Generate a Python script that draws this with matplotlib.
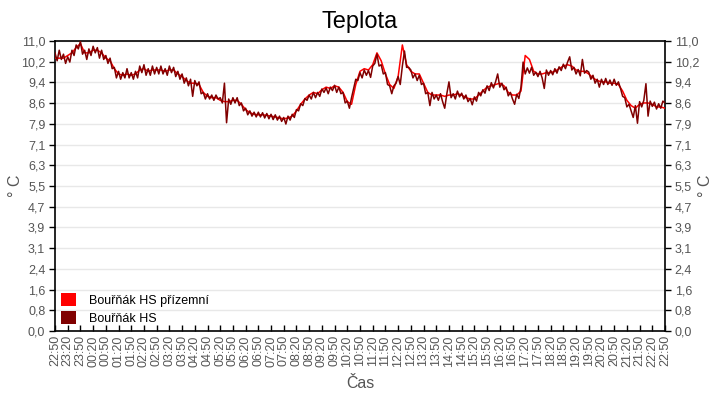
import numpy as np
import pandas as pd
import matplotlib
matplotlib.use("Agg")
import matplotlib.pyplot as plt
from matplotlib.patches import Patch

plt.rcParams['font.family'] = ['Liberation Sans', 'DejaVu Sans']

title = "Teplota"
series_names = ["Bouřňák HS přízemní", "Bouřňák HS"]
series_colors = ["#ff0000", "#800000"]
x_label = "Čas"
y_label = "° C"
start_time = "2024-01-01 22:50"

# Bouřňák HS (dark red), sampled every 5 minutes, one row per hour
hs_values = [
    10.55, 10.25, 10.65, 10.30, 10.50, 10.15, 10.40, 10.20, 10.65, 10.45, 10.85, 10.70,
    10.98, 10.50, 10.65, 10.30, 10.70, 10.45, 10.80, 10.55, 10.75, 10.35, 10.65, 10.30,
    10.45, 10.15, 10.35, 9.95, 10.00, 9.60, 9.85, 9.55, 9.80, 9.60, 9.95, 9.60,
    9.80, 9.55, 9.85, 9.60, 10.05, 9.80, 10.10, 9.70, 9.95, 9.70, 10.05, 9.75,
    10.00, 9.75, 10.05, 9.75, 9.95, 9.70, 10.05, 9.80, 10.00, 9.65, 9.85, 9.55,
    9.75, 9.40, 9.60, 9.30, 9.55, 8.90, 9.50, 9.30, 9.45, 9.00, 9.05, 8.80,
    9.00, 8.80, 8.95, 8.75, 8.95, 8.80, 8.85, 8.65, 9.40, 7.90, 8.80, 8.60,
    8.85, 8.65, 8.85, 8.55, 8.65, 8.35, 8.45, 8.20, 8.35, 8.15, 8.30, 8.12,
    8.30, 8.12, 8.28, 8.08, 8.25, 8.05, 8.22, 8.02, 8.20, 8.00, 8.15, 7.95,
    8.10, 7.85, 8.15, 8.00, 8.22, 8.10, 8.40, 8.35, 8.62, 8.55, 8.82, 8.75,
    8.95, 8.80, 9.05, 8.85, 9.05, 8.90, 9.18, 9.05, 9.22, 9.00, 9.25, 9.12,
    9.32, 9.05, 9.25, 9.00, 9.05, 8.65, 8.72, 8.45, 8.85, 9.20, 9.55, 9.50,
    9.80, 9.60, 9.90, 9.70, 9.88, 9.62, 10.05, 10.15, 10.50, 10.05, 10.10, 9.75,
    9.80, 9.35, 9.30, 9.00, 9.30, 9.40, 9.65, 9.35, 10.05, 10.62, 10.00, 10.00,
    9.90, 9.60, 9.75, 9.50, 9.70, 9.35, 9.40, 9.00, 9.05, 8.55, 9.05, 8.80,
    8.95, 8.75, 9.00, 8.70, 8.45, 9.00, 9.45, 8.85, 9.00, 8.80, 9.10, 8.88,
    9.02, 8.80, 8.95, 8.70, 8.82, 8.58, 8.88, 8.72, 9.05, 8.92, 9.15, 9.02,
    9.30, 9.12, 9.42, 9.22, 9.45, 9.75, 9.25, 9.40, 9.15, 9.25, 8.92, 9.05,
    8.80, 8.60, 8.98, 8.82, 9.25, 10.20, 9.75, 9.98, 9.78, 10.00, 9.70, 9.82,
    9.65, 9.85, 9.60, 9.20, 9.90, 9.70, 9.88, 9.72, 9.95, 9.78, 10.02, 9.88,
    10.12, 9.95, 10.20, 10.40, 9.90, 10.00, 9.75, 9.92, 9.68, 10.30, 9.78, 9.88,
    9.82, 9.55, 9.70, 9.40, 9.55, 9.25, 9.55, 9.35, 9.58, 9.35, 9.52, 9.32,
    9.55, 9.32, 9.45, 9.20, 8.90, 8.85, 8.50, 8.60, 8.35, 8.10, 8.55, 7.88,
    8.70, 8.50, 8.75, 9.38, 8.15, 8.72, 8.52, 8.68, 8.42, 8.62, 8.45, 8.72,
    8.65,
]

# Bouřňák HS přízemní (red), sampled every 10 minutes, one row per hour
hs_ground_values = [
    10.35, 10.35, 10.35, 10.45, 10.55, 10.75,
    10.90, 10.55, 10.55, 10.65, 10.65, 10.55,
    10.35, 10.25, 9.95, 9.75, 9.70, 9.75,
    9.70, 9.75, 9.90, 9.95, 9.85, 9.90,
    9.90, 9.90, 9.85, 9.90, 9.90, 9.75,
    9.65, 9.50, 9.40, 9.40, 9.35, 9.05,
    8.90, 8.85, 8.85, 8.75, 8.70, 8.70,
    8.75, 8.75, 8.60, 8.40, 8.28, 8.22,
    8.20, 8.20, 8.18, 8.15, 8.12, 8.08,
    8.05, 8.08, 8.15, 8.35, 8.60, 8.80,
    8.95, 9.05, 9.00, 9.15, 9.25, 9.20,
    9.30, 9.25, 9.05, 8.70, 8.60, 9.35,
    9.85, 9.95, 9.90, 10.10, 10.55, 10.25,
    9.75, 9.35, 9.20, 9.65, 10.85, 10.10,
    9.85, 9.75, 9.75, 9.40, 9.05, 8.95,
    8.95, 8.95, 8.90, 8.95, 8.95, 9.00,
    8.95, 8.85, 8.80, 8.80, 8.95, 9.10,
    9.25, 9.30, 9.35, 9.40, 9.30, 9.05,
    8.95, 8.95, 9.10, 10.45, 10.30, 9.85,
    9.75, 9.75, 9.80, 9.80, 9.85, 9.95,
    10.05, 10.10, 10.05, 9.90, 9.85, 9.85,
    9.75, 9.60, 9.50, 9.45, 9.45, 9.40,
    9.40, 9.35, 9.10, 8.75, 8.55, 8.45,
    8.60, 8.65, 8.65, 8.60, 8.50, 8.50,
    8.45,
]

hs_minutes = np.arange(len(hs_values)) * 5
ground_minutes = np.arange(len(hs_ground_values)) * 10

y_ticks = np.linspace(0, 11, 15)
y_ticklabels = [f"{v:.1f}".replace('.', ',') for v in y_ticks]
x_ticks = np.arange(49) * 30
x_ticklabels = list(pd.date_range(start_time, periods=49, freq="30min").strftime("%H:%M"))

fig = plt.figure(figsize=(7.2, 4.0), dpi=100)
ax = fig.add_axes([55/720, 69/400, 610/720, 290/400])

ax.plot(ground_minutes, hs_ground_values, color=series_colors[0], lw=1.1, zorder=3)
ax.plot(hs_minutes, hs_values, color=series_colors[1], lw=1.1, zorder=4)

ax.set_xlim(0, 1440)
ax.set_ylim(0, 11)
ax.set_yticks(y_ticks)
ax.set_yticklabels(y_ticklabels)
ax.set_xticks(x_ticks)
ax.set_xticklabels(x_ticklabels, rotation=90)

label_color = "#555555"
ax.tick_params(axis='y', which='both', left=True, right=True, labelleft=True,
               labelright=True, direction='out', length=4, width=1,
               labelsize=9, labelcolor=label_color, pad=3)
ax.tick_params(axis='x', direction='in', length=4, width=1, labelsize=9,
               labelcolor=label_color, pad=3)

for s in ax.spines.values():
    s.set_color("black")
    s.set_linewidth(1.2)

ax.grid(axis='y', color="#e8e8e8", lw=1.0, zorder=0)
ax.set_axisbelow(True)

fig.text(0.5, 1 - 22/400, title, ha='center', va='center', fontsize=17, color='black')
fig.text(0.5, 1 - 383/400, x_label, ha='center', va='center', fontsize=11.5, color=label_color)
fig.text(15/720, 1 - 186/400, y_label, ha='center', va='center', rotation=90,
         fontsize=11.5, color=label_color)
fig.text(706/720, 1 - 186/400, y_label, ha='center', va='center', rotation=90,
         fontsize=11.5, color=label_color)

handles = [Patch(facecolor=c, edgecolor='none') for c in series_colors]
leg = ax.legend(handles, series_names, loc='lower left', frameon=False,
                fontsize=9, handlelength=1.2, handleheight=1.2,
                handletextpad=1.0, labelspacing=0.35, borderaxespad=0.1,
                bbox_to_anchor=(0.0, 0.0))

fig.savefig("out.png", dpi=100)
